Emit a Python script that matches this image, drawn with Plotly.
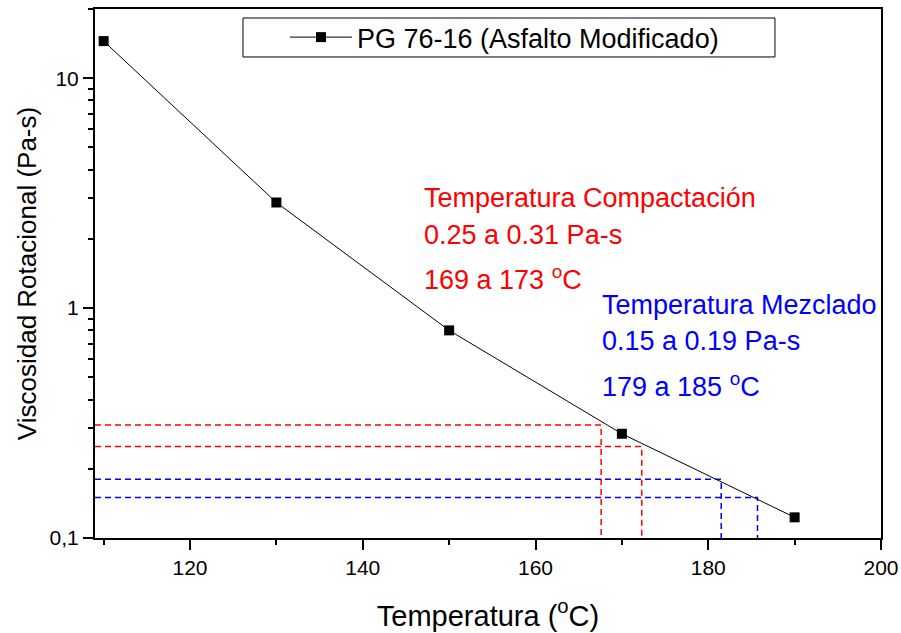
import plotly.graph_objects as go

# Data
temperature = [110, 130, 150, 170, 190]
viscosity = [14.5, 2.88, 0.80, 0.284, 0.123]

compact_visc = [0.31, 0.25]
compact_temp = [167.6, 172.3]
mix_visc = [0.18, 0.15]
mix_temp = [181.5, 185.7]

x_min = 109
y_min = 0.1

ytick_vals = [0.1, 1, 10]
ytick_text = ["0,1", "1", "10"]
yminor_vals = [m * d for d in (0.1, 1, 10) for m in range(2, 10)]
xtick_vals = [120, 140, 160, 180, 200]

FONT = "Liberation Sans, Arial, sans-serif"

fig = go.Figure()

def guide(viscs, temps, color):
    for v, t in zip(viscs, temps):
        fig.add_trace(go.Scatter(
            x=[x_min, t, t], y=[v, v, y_min], mode="lines",
            line=dict(color=color, width=1.5, dash="6px,4px"),
            showlegend=False, hoverinfo="skip"))

guide(compact_visc, compact_temp, "#FF0000")
guide(mix_visc, mix_temp, "#0000FF")

fig.add_trace(go.Scatter(
    x=temperature, y=viscosity, mode="lines+markers",
    name="PG 76-16 (Asfalto Modificado)",
    line=dict(color="black", width=1),
    marker=dict(symbol="square", size=10, color="black"),
))

ann_red = ["Temperatura Compactación", "0.25 a 0.31 Pa-s", "169 a 173 <sup>o</sup>C"]
ann_blue = ["Temperatura Mezclado", "0.15 a 0.19 Pa-s", "179 a 185 <sup>o</sup>C"]
red_y = [0.6427, 0.5728, 0.4915]
blue_y = [0.4405, 0.3724, 0.2892]
for txt, yy in zip(ann_red, red_y):
    fig.add_annotation(x=0.416, y=yy, xref="paper", yref="paper", text=txt,
                       showarrow=False, xanchor="left", yanchor="middle",
                       font=dict(family=FONT, size=27, color="#FF0000"))
for txt, yy in zip(ann_blue, blue_y):
    fig.add_annotation(x=0.6425, y=yy, xref="paper", yref="paper", text=txt,
                       showarrow=False, xanchor="left", yanchor="middle",
                       font=dict(family=FONT, size=27, color="#0000FF"))

# legend frame
fig.add_shape(type="rect", xref="paper", yref="paper",
              x0=0.1883, x1=0.8651, y0=0.9093, y1=0.983,
              line=dict(color="black", width=1), fillcolor="white", layer="below")

fig.update_layout(
    width=901, height=633,
    margin=dict(l=95, r=20, t=9, b=95),
    paper_bgcolor="white", plot_bgcolor="white",
    font=dict(family=FONT, color="black"),
    showlegend=True,
    legend=dict(
        x=0.2417, y=0.946, xanchor="left", yanchor="middle",
        borderwidth=0, bgcolor="rgba(0,0,0,0)",
        font=dict(family=FONT, size=27, color="black"),
        itemwidth=62,
    ),
    xaxis=dict(
        range=[x_min, 200], tickvals=xtick_vals, automargin=False,
        ticks="outside", ticklen=10, tickwidth=2, tickcolor="black",
        minor=dict(ticks="outside", ticklen=5, tickwidth=2, tickcolor="black", dtick=10),
        showline=True, linecolor="black", linewidth=2, mirror=True,
        showgrid=False, zeroline=False,
        tickfont=dict(family=FONT, size=21, color="black"),
        title=dict(text="Temperatura (<sup>o</sup>C)", font=dict(family=FONT, size=29, color="black"), standoff=27),
    ),
    yaxis=dict(
        type="log", range=[-1, 1.301], automargin=False,
        tickvals=ytick_vals, ticktext=ytick_text,
        ticks="outside", ticklen=10, tickwidth=2, tickcolor="black",
        minor=dict(ticks="outside", ticklen=5, tickwidth=2, tickcolor="black", tickvals=yminor_vals),
        showline=True, linecolor="black", linewidth=2, mirror=True,
        showgrid=False, zeroline=False,
        tickfont=dict(family=FONT, size=21, color="black"),
        title=dict(text="Viscosidad Rotacional (Pa-s)", font=dict(family=FONT, size=26, color="black"), standoff=5),
    ),
)

fig.write_html("out.html", config={"displayModeBar": False},
               post_script="document.body.style.margin='0';document.body.style.overflow='hidden';")
